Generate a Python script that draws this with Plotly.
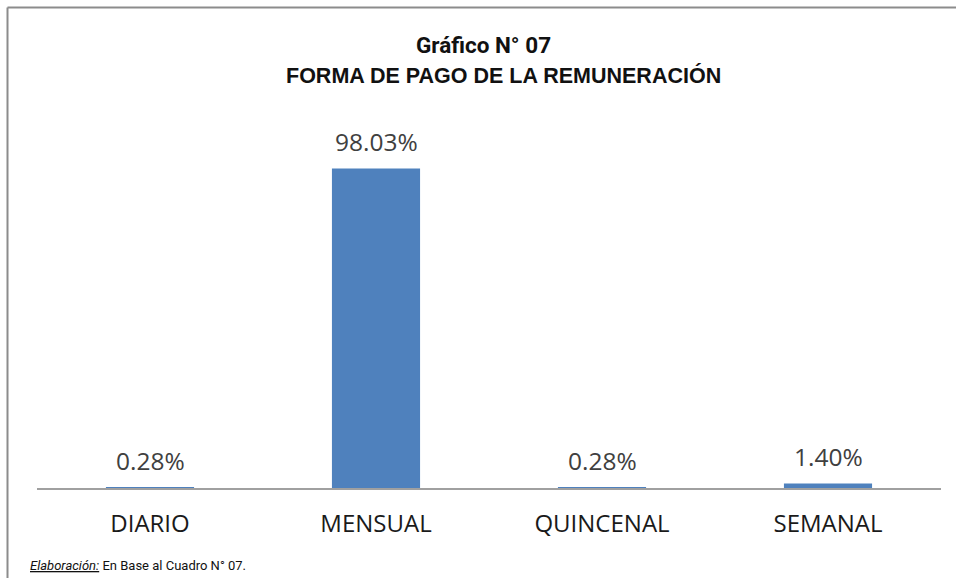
import plotly.graph_objects as go

categories = ["DIARIO", "MENSUAL", "QUINCENAL", "SEMANAL"]
values = [0.28, 98.03, 0.28, 1.40]
value_labels = ["0.28%", "98.03%", "0.28%", "1.40%"]

W, H = 956, 578
L, R, T, B = 37, 15, 162, 90
PW, PH = W - L - R, H - T - B


def px(x):
    return (x - L) / PW


def py(y):
    return (H - B - y) / PH


fig = go.Figure()
fig.add_trace(go.Bar(
    x=categories, y=values, width=0.39,
    marker=dict(color="#4F81BD", line=dict(width=0)),
    hoverinfo="x+y",
))

for c, v, t in zip(categories, values, value_labels):
    fig.add_annotation(x=c, y=v, xref="x", yref="y", text=t, showarrow=False,
                       yanchor="middle", yshift=27,
                       font=dict(family="Open Sans", size=24.5, color="#404040"))

fig.add_annotation(x=px(483), y=py(45), xref="paper", yref="paper",
                   text="<b>Gráfico N° 07</b>", showarrow=False,
                   xanchor="center", yanchor="middle",
                   font=dict(family="Roboto", size=22.5, color="#111111"))
fig.add_annotation(x=px(503), y=py(76), xref="paper", yref="paper",
                   text="<b>FORMA DE PAGO DE LA REMUNERACIÓN</b>", showarrow=False,
                   xanchor="center", yanchor="middle",
                   font=dict(family="Liberation Sans", size=21.5, color="#111111"))
fig.add_annotation(x=px(28), y=py(565), xref="paper", yref="paper",
                   text="<i><u>Elaboración:</u></i> En Base al Cuadro N° 07.", showarrow=False,
                   xanchor="left", yanchor="middle",
                   font=dict(family="Roboto", size=13, color="#111111"))

# chart frame
fig.add_shape(type="line", xref="paper", yref="paper",
              x0=px(7.5), x1=px(7.5), y0=py(7.5), y1=py(H + 5),
              line=dict(color="#8c8c8c", width=2))
fig.add_shape(type="line", xref="paper", yref="paper",
              x0=px(7.5), x1=px(W + 5), y0=py(7.5), y1=py(7.5),
              line=dict(color="#8c8c8c", width=2))

fig.update_layout(
    width=W, height=H,
    margin=dict(l=L, r=R, t=T, b=B),
    paper_bgcolor="white", plot_bgcolor="white",
    showlegend=False,
    bargap=0.61,
    xaxis=dict(showline=True, linecolor="#a0a0a0", linewidth=1.5,
               showgrid=False, ticks="", ticklabelstandoff=13,
               tickfont=dict(family="Open Sans", size=24, color="#1a1a1a")),
    yaxis=dict(range=[0, 100], visible=False, showgrid=False, zeroline=False),
)

fig.write_html("out.html", config={"displayModeBar": False},
               post_script="document.body.style.margin='0';document.body.style.overflow='hidden';")
